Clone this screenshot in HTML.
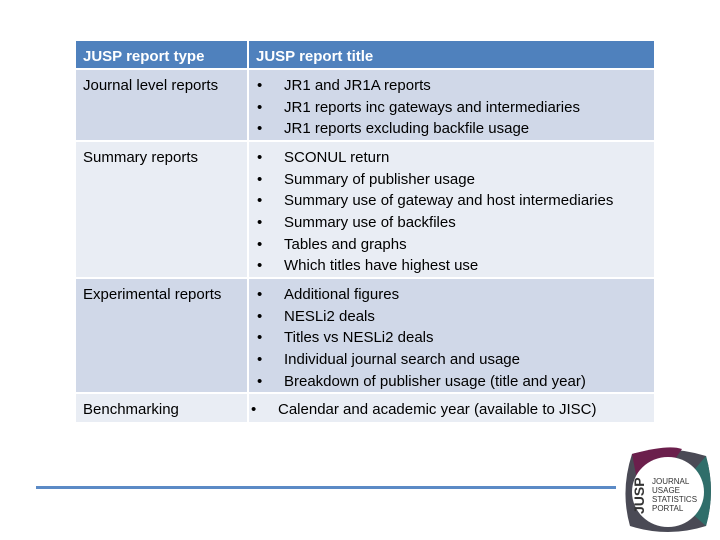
<!DOCTYPE html>
<html><head><meta charset="utf-8"><style>
body{margin:0;width:720px;height:540px;background:#fff;position:relative;overflow:hidden;font-family:"Liberation Sans",sans-serif;font-size:15px;color:#000}
.c{position:absolute;box-sizing:border-box}
.h{background:#4f81bd;color:#fff;font-weight:bold;padding:7px 0 0 7px}
.d{background:#d0d8e8}.l{background:#e9edf4}
.t{position:absolute;left:7px;top:7px}
ul{list-style:none;margin:0;padding:0;position:absolute;left:0;top:7px}
li{height:21.7px;line-height:18px;position:relative;padding-left:35px;white-space:nowrap}
li::before{content:"•";position:absolute;left:8px}
</style></head><body>
<div class="c h" style="left:76px;top:41px;width:171px;height:27px">JUSP report type</div>
<div class="c h" style="left:249px;top:41px;width:405px;height:27px">JUSP report title</div>

<div class="c d" style="left:76px;top:70px;width:171px;height:70px"><span class="t">Journal level reports</span></div>
<div class="c d" style="left:249px;top:70px;width:405px;height:70px"><ul>
<li>JR1 and JR1A reports</li><li>JR1 reports inc gateways and intermediaries</li><li>JR1 reports excluding backfile usage</li></ul></div>

<div class="c l" style="left:76px;top:142px;width:171px;height:135px"><span class="t">Summary reports</span></div>
<div class="c l" style="left:249px;top:142px;width:405px;height:135px"><ul>
<li>SCONUL return</li><li>Summary of publisher usage</li><li>Summary use of gateway and host intermediaries</li><li>Summary use of backfiles</li><li>Tables and graphs</li><li>Which titles have highest use</li></ul></div>

<div class="c d" style="left:76px;top:279px;width:171px;height:113px"><span class="t">Experimental reports</span></div>
<div class="c d" style="left:249px;top:279px;width:405px;height:113px"><ul>
<li>Additional figures</li><li>NESLi2 deals</li><li>Titles vs NESLi2 deals</li><li>Individual journal search and usage</li><li>Breakdown of publisher usage (title and year)</li></ul></div>

<div class="c l" style="left:76px;top:394px;width:171px;height:28px"><span class="t">Benchmarking</span></div>
<div class="c l" style="left:249px;top:394px;width:405px;height:28px"><ul style="left:-6px"><li>Calendar and academic year (available to JISC)</li></ul></div>

<div class="c" style="left:36px;top:486px;width:580px;height:3px;background:#5b8ac6"></div>

<svg class="c" style="left:622px;top:446px" width="92" height="90" viewBox="0 0 92 90">
<path d="M10 8 Q46 -2 84 10 Q94 45 84 80 Q46 92 8 80 Q-2 45 10 8Z" fill="#4a4a55"/>
<path d="M10 8 Q46 -2 60 3 L20 60 Z" fill="#6b1f4c"/>
<path d="M84 10 Q94 45 84 80 L50 50Z" fill="#2f6e6a"/>
<ellipse cx="46" cy="46" rx="36" ry="35" fill="#fff"/>
<text x="22" y="68" transform="rotate(-90 22 68)" font-family="Liberation Sans" font-weight="bold" font-size="14" fill="#333">JUSP</text>
<text x="30" y="38" font-family="Liberation Sans" font-size="8" fill="#333">JOURNAL</text>
<text x="30" y="47" font-family="Liberation Sans" font-size="8" fill="#333">USAGE</text>
<text x="30" y="56" font-family="Liberation Sans" font-size="8" fill="#333">STATISTICS</text>
<text x="30" y="65" font-family="Liberation Sans" font-size="8" fill="#333">PORTAL</text>
</svg>
</body></html>
